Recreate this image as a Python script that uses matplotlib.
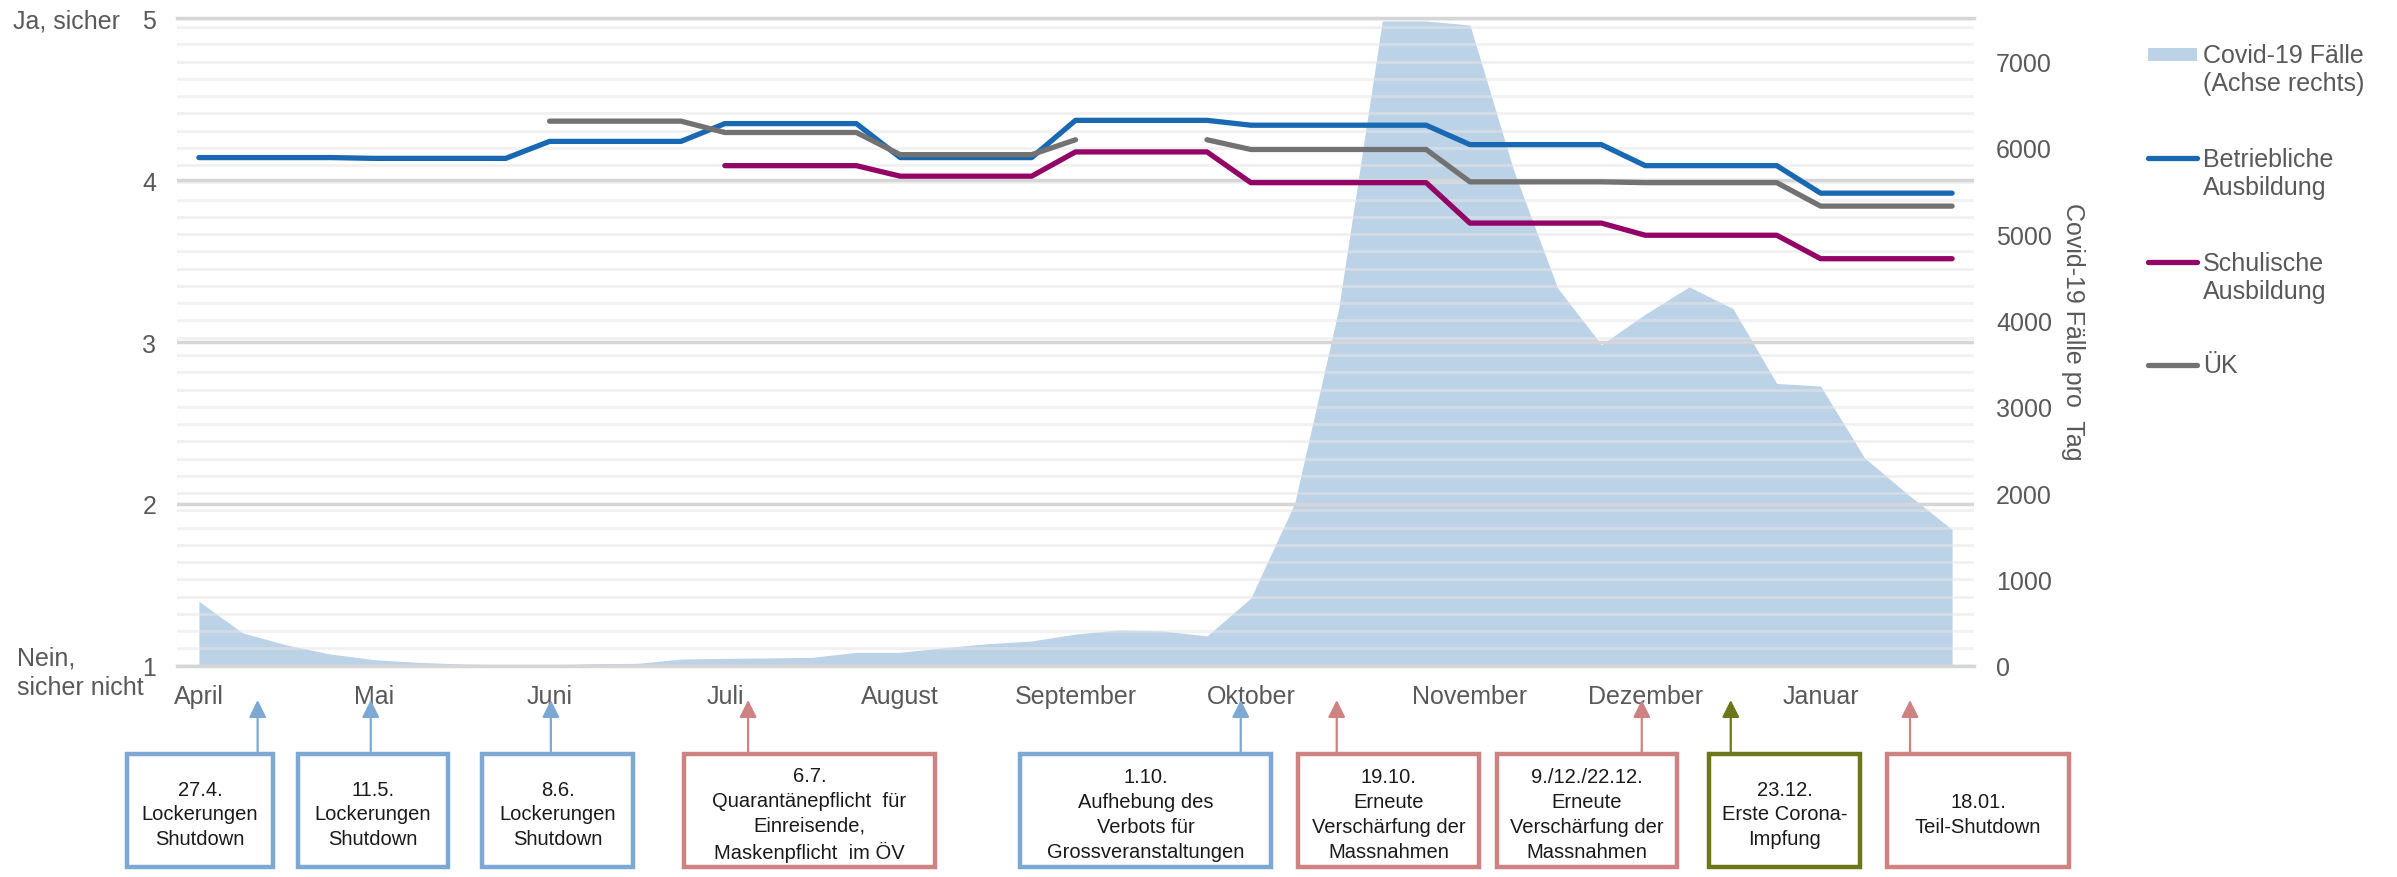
import numpy as np
import matplotlib.pyplot as plt
from matplotlib.patches import Rectangle
from matplotlib.lines import Line2D

nan = np.nan

# Wochen April 2020 - Januar 2021 (41 Wochen), Monatslabel an der ersten Woche
monate = ["April", "Mai", "Juni", "Juli", "August", "September",
          "Oktober", "November", "Dezember", "Januar"]
monat_woche = [0, 4, 8, 12, 16, 20, 24, 29, 33, 37]

# Zuversicht (1 = Nein, sicher nicht ... 5 = Ja, sicher)
betrieblich = [4.14, 4.14, 4.14, 4.14, 4.135, 4.135, 4.135, 4.135,
               4.24, 4.24, 4.24, 4.24, 4.35, 4.35, 4.35, 4.35,
               4.14, 4.14, 4.14, 4.14, 4.37, 4.37, 4.37, 4.37,
               4.34, 4.34, 4.34, 4.34, 4.34, 4.22, 4.22, 4.22, 4.22,
               4.09, 4.09, 4.09, 4.09, 3.92, 3.92, 3.92, 3.92]
schulisch = [nan, nan, nan, nan, nan, nan, nan, nan, nan, nan, nan, nan,
             4.09, 4.09, 4.09, 4.09, 4.025, 4.025, 4.025, 4.025,
             4.175, 4.175, 4.175, 4.175,
             3.985, 3.985, 3.985, 3.985, 3.985, 3.735, 3.735, 3.735, 3.735,
             3.66, 3.66, 3.66, 3.66, 3.515, 3.515, 3.515, 3.515]
uek = [nan, nan, nan, nan, nan, nan, nan, nan,
       4.365, 4.365, 4.365, 4.365, 4.295, 4.295, 4.295, 4.295,
       4.158, 4.158, 4.158, 4.158, 4.25, nan, nan, 4.25,
       4.19, 4.19, 4.19, 4.19, 4.19, 3.99, 3.99, 3.99, 3.99,
       3.985, 3.985, 3.985, 3.985, 3.84, 3.84, 3.84, 3.84]

# Covid-19 Fälle pro Tag (Achse rechts)
covid = [746, 380, 240, 135, 70, 39, 20, 10, 10, 23, 27, 77, 85, 90, 97,
         155, 155, 209, 255, 286, 367, 414, 402, 345, 784, 1880, 4123,
         7470, 7470, 7423, 5736, 4376, 3720, 4073, 4390, 4138, 3270, 3241,
         2410, 1981, 1579]

# Ereignisse unter der Achse
ereignisse = ["27.4.\nLockerungen\nShutdown",
              "11.5.\nLockerungen\nShutdown",
              "8.6.\nLockerungen\nShutdown",
              "6.7.\nQuarantänepflicht  für\nEinreisende,\nMaskenpflicht  im ÖV",
              "1.10.\nAufhebung des\nVerbots für\nGrossveranstaltungen",
              "19.10.\nErneute\nVerschärfung der\nMassnahmen",
              "9./12./22.12.\nErneute\nVerschärfung der\nMassnahmen",
              "23.12.\nErste Corona-\nImpfung",
              "18.01.\nTeil-Shutdown"]
ereignis_art = ["lockerung", "lockerung", "lockerung", "verschaerfung", "lockerung",
                "verschaerfung", "verschaerfung", "impfung", "verschaerfung"]

# layout (arrows in week units, boxes in figure px)
pfeil_woche = [1.34, 3.92, 8.03, 12.53, 23.77, 25.96, 32.92, 34.95, 39.04]
box_px = [(127, 273), (298, 448), (482, 633), (684, 935), (1020, 1271),
          (1298, 1479), (1497, 1677), (1709, 1860), (1887, 2069)]
art_farbe = {"lockerung": "#7DA8D4", "verschaerfung": "#CF8282", "impfung": "#6B7719"}

W, H = 2397, 878
plt.rcParams['font.family'] = ['Liberation Sans', 'DejaVu Sans']
txt = '#595959'


def fx(x):
    return x / W


def fy(y):
    return 1 - y / H


fig = plt.figure(figsize=(W / 100, H / 100), dpi=100)
ax = fig.add_axes([fx(177), fy(666.7), (1974 - 177) / W, (666.7 - 19.4) / H])
ax2 = ax.twinx()
ax.set_zorder(ax2.get_zorder() + 1)
ax.patch.set_visible(False)

x = np.arange(len(covid))

# Covid area on right axis
ax2.fill_between(x, covid, color='#BBD2E7', lw=0, zorder=1)
ax2.set_ylim(0, 7500)
ax2.set_yticks(range(0, 7001, 1000))
ax2.set_yticks(np.arange(0, 7501, 200), minor=True)
ax2.grid(which='both', axis='y', color='#E6E6E6', lw=2, alpha=0.55)
ax2.set_axisbelow('line')
ax2.tick_params(axis='y', which='both', length=0, labelsize=18, labelcolor=txt, pad=16)
for s in ax2.spines.values():
    s.set_visible(False)

# Lines on left axis
ax.plot(x, betrieblich, color='#1868B2', lw=3.8, solid_capstyle='round', solid_joinstyle='round')
ax.plot(x, schulisch, color='#920466', lw=3.8, solid_capstyle='round', solid_joinstyle='round')
ax.plot(x, uek, color='#727272', lw=3.8, solid_capstyle='round', solid_joinstyle='round')
ax.set_ylim(1, 5)
ax.set_xlim(-0.5, 40.5)
ax.set_yticks([1, 2, 3, 4, 5])
ax.grid(axis='y', color='#D6D6D6', lw=2.5)
ax.set_xticks(monat_woche)
ax.set_xticklabels(monate)
ax.tick_params(axis='x', length=0, labelsize=18, labelcolor=txt, pad=13)
ax.tick_params(axis='y', length=0, labelsize=18, labelcolor=txt, pad=15)
for k, s in ax.spines.items():
    s.set_visible(k in ('top', 'bottom'))
    s.set_color('#D6D6D6')
    s.set_linewidth(2.5)

fig.text(fx(13), fy(21), "Ja, sicher", fontsize=18, color=txt, ha='left', va='center')
fig.text(fx(17), fy(673), "Nein,\nsicher nicht", fontsize=18, color=txt,
         ha='left', va='center', linespacing=1.3)
fig.text(fx(2073), fy(332), "Covid-19 Fälle pro  Tag", fontsize=18, color=txt,
         rotation=270, ha='center', va='center')

# Legend, drawn by hand so the marker sits on the first text line
leg_x0, leg_x1, leg_tx = 2148, 2197, 2203
fig.add_artist(Rectangle((fx(leg_x0), fy(62)), (leg_x1 - leg_x0) / W, 13 / H,
                         transform=fig.transFigure, color='#BBD2E7', lw=0))
fig.text(fx(leg_tx), fy(70), "Covid-19 Fälle\n(Achse rechts)", fontsize=18,
         color=txt, ha='left', va='center', linespacing=1.2)
for yy, lab, col in [(159, "Betriebliche\nAusbildung", '#1868B2'),
                     (263, "Schulische\nAusbildung", '#920466'),
                     (366, "ÜK", '#727272')]:
    fig.add_artist(Line2D([fx(leg_x0), fx(leg_x1)], [fy(yy), fy(yy)],
                          transform=fig.transFigure, color=col, lw=3.8,
                          solid_capstyle='round'))
    yc = yy + 15 if '\n' in lab else yy
    fig.text(fx(leg_tx), fy(yc), lab, fontsize=18, color=txt, ha='left',
             va='center', linespacing=1.2)

# Event boxes and arrows
box_top, box_bot = 755, 868
for lab, art, wk, (bx0, bx1) in zip(ereignisse, ereignis_art, pfeil_woche, box_px):
    c = art_farbe[art]
    ax.annotate('', xy=(wk, -(701 - 666.7) / 647.3), xycoords=ax.get_xaxis_transform(),
                xytext=(wk, -(box_top - 666.7) / 647.3), textcoords=ax.get_xaxis_transform(),
                arrowprops=dict(arrowstyle='-|>', color=c, lw=1.6, mutation_scale=26,
                                shrinkA=0, shrinkB=0),
                annotation_clip=False)
    fig.add_artist(Rectangle((fx(bx0), fy(box_bot)), (bx1 - bx0) / W,
                             (box_bot - box_top) / H, transform=fig.transFigure,
                             fill=False, edgecolor=c, lw=3.2))
    fig.text(fx((bx0 + bx1) / 2), fy(815), lab, fontsize=14.5, color='#1a1a1a',
             ha='center', va='center', linespacing=1.38)

fig.savefig('out.png', dpi=100)
